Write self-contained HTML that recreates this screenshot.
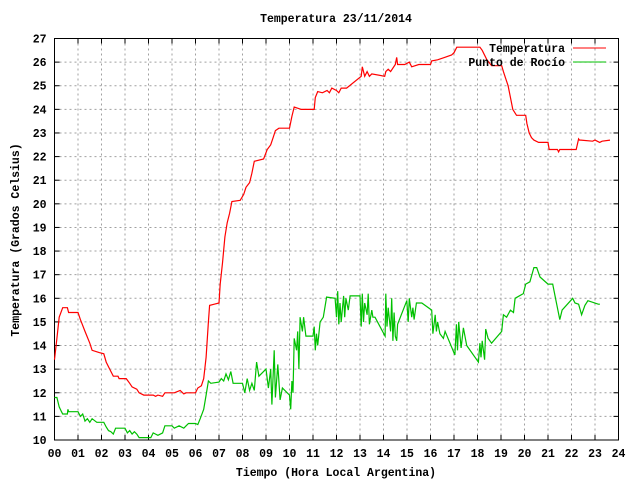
<!DOCTYPE html>
<html><head><meta charset="utf-8"><style>
body{margin:0;background:#fff}
svg text{font-family:"Liberation Mono",monospace;font-size:11.5px;font-weight:bold;fill:#000}
</style></head><body>
<svg id="chart" width="640" height="480" xmlns="http://www.w3.org/2000/svg">
<rect width="640" height="480" fill="#fff"/>
<text x="336" y="22" text-anchor="middle">Temperatura 23/11/2014</text>
<text transform="translate(19,240) rotate(-90)" text-anchor="middle">Temperatura (Grados Celsius)</text>
<text x="336" y="476" text-anchor="middle">Tiempo (Hora Local Argentina)</text>
<g id="grid"></g><g id="axes"></g><g id="series"></g>
<g>
<text x="565" y="52" text-anchor="end">Temperatura</text>
<line x1="573" y1="48" x2="606" y2="48" stroke="#ff0000" stroke-width="1"/>
<text x="565" y="66" text-anchor="end">Punto de Rocío</text>
<line x1="573" y1="62" x2="606" y2="62" stroke="#00c000" stroke-width="1"/>
</g>
</svg>
<script>
const xTicks=["00","01","02","03","04","05","06","07","08","09","10","11","12","13","14","15","16","17","18","19","20","21","22","23","24"];
const yTicks=[10,11,12,13,14,15,16,17,18,19,20,21,22,23,24,25,26,27];
const tempHours=[0,0.1,0.2,0.35,0.55,0.6,1.0,1.1,1.3,1.5,1.6,1.9,2.1,2.2,2.35,2.5,2.7,2.75,3.05,3.2,3.3,3.5,3.6,3.8,4.2,4.3,4.4,4.6,4.7,5.1,5.35,5.5,5.6,6.0,6.1,6.25,6.35,6.45,6.55,6.6,6.8,7.0,7.05,7.15,7.25,7.35,7.45,7.55,7.9,8.05,8.15,8.3,8.4,8.5,8.9,9.05,9.2,9.3,9.4,9.55,10.0,10.1,10.2,10.5,11.05,11.1,11.2,11.4,11.6,11.7,11.8,12.0,12.1,12.2,12.43,13.05,13.1,13.2,13.3,13.4,13.5,14.05,14.1,14.2,14.3,14.5,14.56,14.6,14.9,15.1,15.2,15.5,16.0,16.05,16.3,16.6,16.9,17.0,17.12,17.5,18.1,18.2,18.4,18.6,19.03,19.1,19.2,19.3,19.5,19.66,20.05,20.1,20.2,20.3,20.4,20.6,21.0,21.05,21.4,21.45,21.5,21.66,22.2,22.3,22.34,22.4,22.9,23.0,23.2,23.3,23.64];
const tempValues=[13.4,14.3,15.2,15.6,15.6,15.4,15.4,15.1,14.6,14.1,13.8,13.7,13.65,13.3,13.0,12.7,12.7,12.6,12.6,12.4,12.25,12.15,12.0,11.9,11.9,11.85,11.9,11.85,12.0,12.0,12.1,11.95,12.0,12.0,12.2,12.3,12.6,13.5,15.0,15.7,15.75,15.8,16.6,17.5,18.6,19.2,19.6,20.1,20.15,20.4,20.7,20.9,21.3,21.8,21.9,22.3,22.5,22.8,23.1,23.2,23.2,23.7,24.1,24.0,24.0,24.5,24.75,24.7,24.8,24.7,24.9,24.8,24.7,24.9,24.9,25.4,25.8,25.4,25.6,25.4,25.5,25.4,25.6,25.7,25.6,25.9,26.2,25.9,25.9,26.0,25.8,25.9,25.9,26.05,26.1,26.2,26.3,26.4,26.63,26.63,26.63,26.5,26.1,25.85,25.85,25.6,25.3,25.0,24.0,23.75,23.75,23.4,23.0,22.8,22.7,22.6,22.6,22.3,22.3,22.2,22.3,22.3,22.3,22.75,22.7,22.7,22.65,22.7,22.6,22.65,22.7,22.65];
const dewHours=[0,0.1,0.2,0.3,0.35,0.55,0.57,0.6,1.0,1.1,1.2,1.3,1.4,1.5,1.6,1.8,2.1,2.2,2.3,2.4,2.5,2.6,3.0,3.1,3.2,3.3,3.4,3.5,3.6,4.1,4.2,4.4,4.6,4.7,5.0,5.1,5.3,5.5,5.6,5.7,6.0,6.1,6.2,6.35,6.45,6.55,6.65,7.0,7.1,7.2,7.3,7.4,7.5,7.6,8.0,8.1,8.2,8.3,8.4,8.5,8.6,8.7,9.0,9.1,9.2,9.25,9.35,9.4,9.5,9.6,9.7,10.0,10.05,10.1,10.15,10.2,10.3,10.35,10.4,10.45,10.55,10.6,10.7,11.0,11.05,11.1,11.15,11.2,11.3,11.44,11.58,11.94,12.0,12.05,12.1,12.15,12.2,12.3,12.35,12.4,12.5,12.58,13.0,13.05,13.1,13.15,13.2,13.3,13.35,13.4,13.5,13.55,13.64,14.07,14.1,14.15,14.2,14.3,14.35,14.4,14.45,14.5,14.56,14.6,14.99,15.05,15.1,15.2,15.25,15.3,15.4,15.63,16.05,16.1,16.2,16.25,16.3,16.4,16.55,16.62,17.04,17.1,17.15,17.2,17.3,17.35,17.4,17.54,18.04,18.1,18.15,18.2,18.3,18.35,18.45,18.6,19.03,19.1,19.24,19.4,19.53,19.6,19.95,20.05,20.23,20.4,20.52,20.66,21.0,21.2,21.34,21.5,21.6,22.05,22.15,22.3,22.43,22.57,22.7,23.14,23.21,23.28,23.5,23.55,23.64];
const dewValues=[11.8,11.8,11.4,11.2,11.1,11.1,11.3,11.2,11.2,11.0,11.1,10.8,10.9,10.75,10.9,10.75,10.75,10.55,10.4,10.35,10.25,10.5,10.5,10.3,10.4,10.25,10.35,10.25,10.1,10.1,10.3,10.2,10.3,10.6,10.6,10.5,10.6,10.5,10.6,10.7,10.7,10.65,10.9,11.3,11.9,12.5,12.4,12.45,12.6,12.5,12.8,12.55,12.9,12.4,12.4,12.0,12.6,12.1,12.4,12.1,13.3,12.7,13.0,12.2,13.0,11.5,13.8,11.8,13.2,11.7,12.2,11.9,11.3,12.5,12.0,14.3,13.8,14.6,13.0,15.2,14.6,15.2,14.4,14.4,14.8,13.8,14.5,14.0,15.0,15.2,16.05,16.0,15.2,16.3,14.9,15.8,15.0,16.1,15.2,16.0,15.5,16.1,16.1,14.8,16.2,15.0,15.8,15.3,16.2,14.9,15.5,15.2,15.2,14.4,16.2,14.8,15.6,14.6,16.0,14.2,15.4,14.4,14.2,14.9,15.9,15.0,16.0,15.2,15.6,15.1,15.8,15.8,15.5,14.5,15.3,14.6,15.0,14.5,14.3,14.6,13.6,14.9,13.8,15.0,13.9,14.3,14.75,14.0,13.3,14.1,13.5,14.2,13.4,14.7,14.3,14.1,14.6,15.3,15.2,15.5,15.4,16.0,16.2,16.6,16.7,17.3,17.3,16.9,16.6,16.6,15.9,15.1,15.5,16.0,15.8,15.75,15.3,15.7,15.9,15.75,15.75];
const L=54.5,R=618.5,T=38.5,B=440;
const xs=h=>L+(R-L)*h/24;
const ys=v=>B-(B-T)*(v-10)/17;
const NS="http://www.w3.org/2000/svg";
function mk(parent,tag,attrs){const e=document.createElementNS(NS,tag);for(const k in attrs)e.setAttribute(k,attrs[k]);document.getElementById(parent).appendChild(e);return e;}
xTicks.forEach((t,i)=>{
  const x=xs(i);
  if(i>0&&i<24){const g=mk("grid","line",{x1:x,y1:T,x2:x,y2:B,stroke:"#a0a0a0","stroke-dasharray":"2,3"});
  
  }
  mk("axes","line",{x1:x,y1:B,x2:x,y2:B-5,stroke:"#000"});
  mk("axes","line",{x1:x,y1:T,x2:x,y2:T+5,stroke:"#000"});
  const tx=mk("axes","text",{x:x,y:B+17,"text-anchor":"middle"});
  tx.textContent=t;
  
  
});
yTicks.forEach(v=>{
  const y=ys(v);
  if(v>10&&v<27){const g=mk("grid","line",{x1:L,y1:y,x2:R,y2:y,stroke:"#a0a0a0","stroke-dasharray":"2,3"});
  
  }
  mk("axes","line",{x1:L,y1:y,x2:L+5,y2:y,stroke:"#000"});
  mk("axes","line",{x1:R,y1:y,x2:R-5,y2:y,stroke:"#000"});
  const tx=mk("axes","text",{x:L-8,y:y+4,"text-anchor":"end"});
  tx.textContent=v;
  
  
});
const frame=mk("axes","rect",{x:L,y:T,width:R-L,height:B-T,fill:"none",stroke:"#000","stroke-width":1});


function stepPath(hs,vs){let d="";for(let i=0;i<hs.length;i++){const x=xs(hs[i]).toFixed(1),y=ys(vs[i]).toFixed(1);d+=(i?"L":"M")+x+","+y;}return d;}
const dew=mk("series","path",{d:stepPath(dewHours,dewValues),fill:"none",stroke:"#00c000","stroke-width":1.2});


const temp=mk("series","path",{d:stepPath(tempHours,tempValues),fill:"none",stroke:"#ff0000","stroke-width":1.2});


</script>
</body></html>
